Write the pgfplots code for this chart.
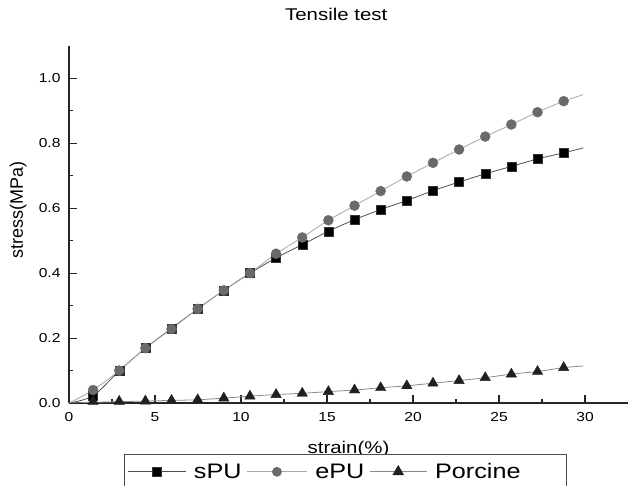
\documentclass[border=0pt]{standalone}
\usepackage{fontspec}
\setmainfont{Liberation Sans}[FakeStretch=1.2]
\newfontfamily\plainsans{Liberation Sans}
\usepackage{pgfplots}
\pgfplotsset{compat=1.18}
\usepackage{pgfplotstable}

\definecolor{spuline}{HTML}{505050}
\definecolor{epuline}{HTML}{A8A8A8}
\definecolor{epumark}{HTML}{6A6A6A}
\definecolor{porline}{HTML}{8A8A8A}
\definecolor{pormark}{HTML}{202020}

\pgfplotstableread{
x y
1.40 0.022
2.92 0.099
4.44 0.169
5.96 0.230
7.48 0.290
9.00 0.347
10.52 0.400
12.04 0.447
13.56 0.488
15.08 0.529
16.60 0.565
18.12 0.596
19.64 0.624
21.16 0.654
22.68 0.681
24.20 0.706
25.72 0.729
27.24 0.752
28.76 0.771
}\spu
\pgfplotstableread{
x y
0 0
1.40 0.022
2.92 0.099
4.44 0.169
5.96 0.230
7.48 0.290
9.00 0.347
10.52 0.400
12.04 0.447
13.56 0.488
15.08 0.529
16.60 0.565
18.12 0.596
19.64 0.624
21.16 0.654
22.68 0.681
24.20 0.706
25.72 0.729
27.24 0.752
28.76 0.771
29.90 0.786
}\spuline
\pgfplotstableread{
x y
1.40 0.040
2.92 0.100
4.44 0.169
5.96 0.228
7.48 0.290
9.00 0.347
10.52 0.400
12.04 0.460
13.56 0.510
15.08 0.563
16.60 0.608
18.12 0.653
19.64 0.698
21.16 0.740
22.68 0.781
24.20 0.821
25.72 0.858
27.24 0.896
28.76 0.930
}\epu
\pgfplotstableread{
x y
0 0
1.40 0.040
2.92 0.100
4.44 0.169
5.96 0.228
7.48 0.290
9.00 0.347
10.52 0.400
12.04 0.460
13.56 0.510
15.08 0.563
16.60 0.608
18.12 0.653
19.64 0.698
21.16 0.740
22.68 0.781
24.20 0.821
25.72 0.858
27.24 0.896
28.76 0.930
29.90 0.950
}\epuline
\pgfplotstableread{
x y
1.40 0.005
2.92 0.005
4.44 0.006
5.96 0.008
7.48 0.010
9.00 0.015
10.52 0.021
12.04 0.026
13.56 0.030
15.08 0.035
16.60 0.040
18.12 0.047
19.64 0.053
21.16 0.061
22.68 0.069
24.20 0.078
25.72 0.089
27.24 0.097
28.76 0.109
}\por
\pgfplotstableread{
x y
0 0
1.40 0.002
2.92 0.004
4.44 0.006
5.96 0.008
7.48 0.010
9.00 0.015
10.52 0.021
12.04 0.026
13.56 0.030
15.08 0.035
16.60 0.040
18.12 0.047
19.64 0.053
21.16 0.061
22.68 0.069
24.20 0.078
25.72 0.089
27.24 0.097
28.76 0.109
29.90 0.114
}\porline

\begin{document}
\begin{tikzpicture}
\begin{axis}[
  name=ax,
  width=559pt, height=357pt, scale only axis,
  xmin=0, xmax=32.5, ymin=0, ymax=1.1,
  axis lines=left,
  axis line style={-, line width=1.3pt, black!85},
  xtick={0,5,10,15,20,25,30},
  ytick={0,0.2,0.4,0.6,0.8,1.0},
  minor x tick num=1, minor y tick num=1,
  major tick length=8pt, minor tick length=4pt,
  tick style={line width=1.1pt, black!85},
  tick align=inside,
  /pgf/number format/assume math mode=true,
  yticklabel style={/pgf/number format/fixed, /pgf/number format/fixed zerofill, /pgf/number format/precision=1, xshift=-5pt},
  xticklabel style={yshift=-6pt},
  ticklabel style={font=\fontsize{13}{15}\selectfont},
  title={Tensile test},
  title style={at={(0.478,1.073)}, anchor=center, font=\fontsize{17}{20}\selectfont},
  xlabel={strain(\%)},
  xlabel style={at={(0.5,-0.13)}, anchor=center, font=\fontsize{17}{20}\selectfont},
  ylabel={stress(MPa)},
  ylabel style={at={(-0.091,0.54)}, anchor=center, font=\plainsans\fontsize{18}{20}\selectfont},
  legend style={at={(0.494,-0.143)}, anchor=north, legend columns=3, draw=black!70, line width=0.8pt,
    font=\fontsize{21}{24}\selectfont, inner xsep=3pt, inner ysep=3pt,
    nodes={inner xsep=0pt, inner ysep=6pt},
    /tikz/every odd column/.append style={column sep=8pt},
    /tikz/every even column/.append style={column sep=5pt}},
]
\addplot[spuline, line width=0.8pt, smooth, forget plot] table {\spuline};
\addplot[epuline, line width=0.8pt, smooth, forget plot] table {\epuline};
\addplot[porline, line width=0.8pt, smooth, forget plot] table {\porline};

\addplot[only marks, mark=square*, mark size=4.5pt, black, mark options={fill=black, draw=black!80},
  legend image code/.code={\draw[spuline, line width=0.8pt] (0pt,0pt) -- (58pt,0pt);
    \draw[black, fill=black] plot[mark=square*, mark size=4.5pt] coordinates {(29pt,0pt)};}]
  table {\spu};
\addlegendentry{sPU}
\addplot[only marks, mark=*, mark size=5pt, epumark, mark options={fill=epumark, draw=epumark},
  legend image code/.code={\draw[epuline, line width=0.8pt] (0pt,0pt) -- (60pt,0pt);
    \draw[epumark, fill=epumark] plot[mark=*, mark size=4.5pt] coordinates {(30pt,0pt)};}]
  table {\epu};
\addlegendentry{ePU}
\addplot[only marks, mark=triangle*, mark size=6pt, pormark, mark options={fill=pormark, draw=pormark},
  legend image code/.code={\draw[porline, line width=0.8pt] (0pt,0pt) -- (57pt,0pt);
    \draw[pormark, fill=pormark] plot[mark=triangle*, mark size=6pt] coordinates {(28.5pt,0pt)};}]
  table {\por};
\addlegendentry{\makebox[128pt][l]{Porcine}}
\end{axis}
\pgfresetboundingbox
\path[use as bounding box] ([shift={(-69pt,-83pt)}]ax.south west) rectangle ([shift={(562pt,403pt)}]ax.south west);
\end{tikzpicture}
\end{document}
